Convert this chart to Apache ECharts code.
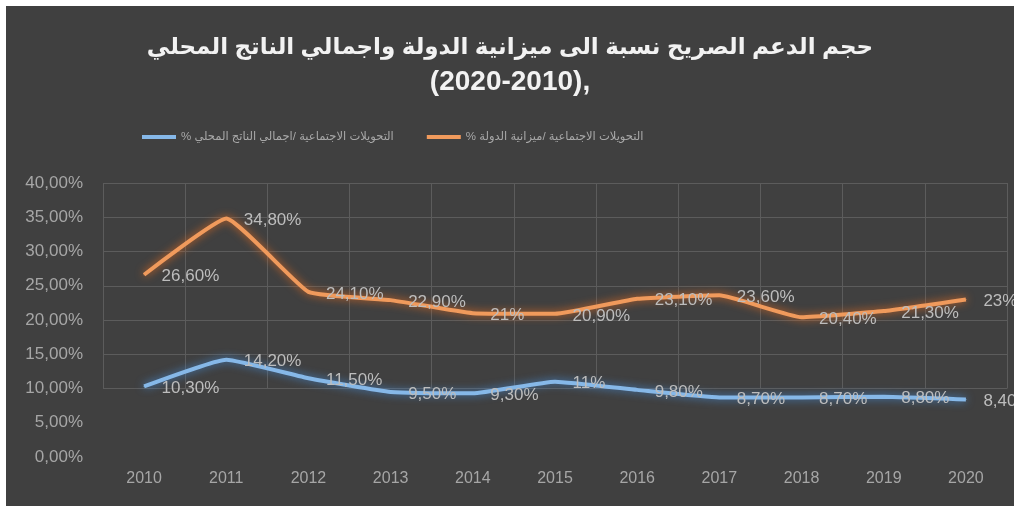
<!DOCTYPE html>
<html>
<head>
<meta charset="utf-8">
<script src="https://cdn.jsdelivr.net/npm/echarts@6/dist/echarts.min.js"></script>
<style>
  html, body { margin: 0; padding: 0; background: #ffffff; }
  #chart { position: absolute; left: 6px; top: 6px; width: 1008px; height: 500px; background: #404040; }
</style>
</head>
<body>
<div id="chart"></div>
<script>
// Years on the horizontal axis
const years = ['2010', '2011', '2012', '2013', '2014', '2015', '2016', '2017', '2018', '2019', '2020'];
// Social transfers as a share of the state budget (%)
const budgetShare = [26.6, 34.8, 24.1, 22.9, 21, 20.9, 23.1, 23.6, 20.4, 21.3, 23];
// Social transfers as a share of GDP (%)
const gdpShare = [10.3, 14.2, 11.5, 9.5, 9.3, 11, 9.8, 8.7, 8.7, 8.8, 8.4];

const titleLine1 = 'حجم الدعم الصريح نسبة الى ميزانية الدولة واجمالي الناتج المحلي';
const titleLine2 = '(2020-2010),';
const nameBudget = '% التحويلات الاجتماعية /ميزانية الدولة';
const nameGdp = '% التحويلات الاجتماعية /اجمالي الناتج المحلي';

// Percent with a decimal comma: 26.6 -> "26,60%", 21 -> "21%"
function pct(v, digits) {
  if (digits === undefined) digits = Number.isInteger(v) ? 0 : 2;
  return v.toFixed(digits).replace('.', ',') + '%';
}

const font = 'Arial, "Liberation Sans", "DejaVu Sans", sans-serif';
const gridColor = '#5c5c5c';

const valueLabel = {
  show: true,
  position: 'right',
  distance: 17,
  offset: [0, 2],
  color: '#bdbdbd',
  fontSize: 17,
  fontFamily: font,
  formatter: p => pct(p.value)
};

const chart = echarts.init(document.getElementById('chart'));
chart.setOption({
  backgroundColor: '#404040',
  animation: false,
  title: {
    text: '{a|' + titleLine1 + '}\n{b|' + titleLine2 + '}',
    left: 'center',
    top: 21,
    textStyle: {
      color: '#f2f2f2',
      fontWeight: 'bold',
      fontFamily: font,
      align: 'center',
      rich: {
        a: { fontSize: 23, fontWeight: 'bold', color: '#f2f2f2', lineHeight: 32, fontFamily: font, align: 'center' },
        b: { fontSize: 28, fontWeight: 'bold', color: '#f2f2f2', lineHeight: 36, fontFamily: font, align: 'center' }
      }
    }
  },
  legend: {
    left: 131,
    top: 120,
    icon: 'rect',
    itemWidth: 34,
    itemHeight: 4,
    itemGap: 33,
    data: [nameGdp, nameBudget],
    textStyle: { color: '#a8a8a8', fontSize: 11.5, fontFamily: font }
  },
  grid: [
    { left: 97, right: 7, top: 177, bottom: 49 },
    // upper band that carries the vertical gridlines
    { left: 97, right: 7, top: 177, bottom: 117.5 }
  ],
  xAxis: [
    {
      type: 'category',
      gridIndex: 0,
      data: years,
      boundaryGap: true,
      axisLine: { show: false },
      axisTick: { show: false },
      splitLine: { show: false },
      axisLabel: { color: '#a6a6a6', fontSize: 16, margin: 14, fontFamily: font }
    },
    {
      type: 'category',
      gridIndex: 1,
      data: years,
      boundaryGap: true,
      axisLine: { show: false },
      axisTick: { show: false },
      axisLabel: { show: false },
      splitLine: { show: true, interval: 0, lineStyle: { color: gridColor, width: 1 } }
    }
  ],
  yAxis: [
    {
      type: 'value',
      gridIndex: 0,
      min: 0,
      max: 40,
      interval: 5,
      axisLine: { show: false },
      axisTick: { show: false },
      axisLabel: {
        color: '#a6a6a6',
        fontSize: 17,
        margin: 20,
        fontFamily: font,
        formatter: v => pct(v, 2)
      },
      splitLine: {
        show: true,
        lineStyle: {
          width: 1,
          color: ['transparent', 'transparent', gridColor, gridColor, gridColor, gridColor, gridColor, gridColor, gridColor]
        }
      }
    },
    {
      type: 'value',
      gridIndex: 1,
      min: 10,
      max: 40,
      interval: 5,
      axisLine: { show: false },
      axisTick: { show: false },
      axisLabel: { show: false },
      splitLine: { show: false }
    }
  ],
  series: [
    {
      name: nameGdp,
      type: 'line',
      xAxisIndex: 0,
      yAxisIndex: 0,
      data: gdpShare,
      smooth: 0.12,
      symbol: 'circle',
      symbolSize: 1,
      showSymbol: true,
      color: '#86b8e8',
      lineStyle: {
        width: 4,
        color: '#86b8e8',
        shadowColor: 'rgba(70,140,215,0.9)',
        shadowBlur: 8
      },
      label: valueLabel
    },
    {
      name: nameBudget,
      type: 'line',
      xAxisIndex: 0,
      yAxisIndex: 0,
      data: budgetShare,
      smooth: 0.12,
      symbol: 'circle',
      symbolSize: 1,
      showSymbol: true,
      color: '#f09a5c',
      lineStyle: {
        width: 4,
        color: '#f09a5c',
        shadowColor: 'rgba(237,110,30,0.9)',
        shadowBlur: 8
      },
      label: valueLabel
    }
  ]
});
</script>
</body>
</html>
